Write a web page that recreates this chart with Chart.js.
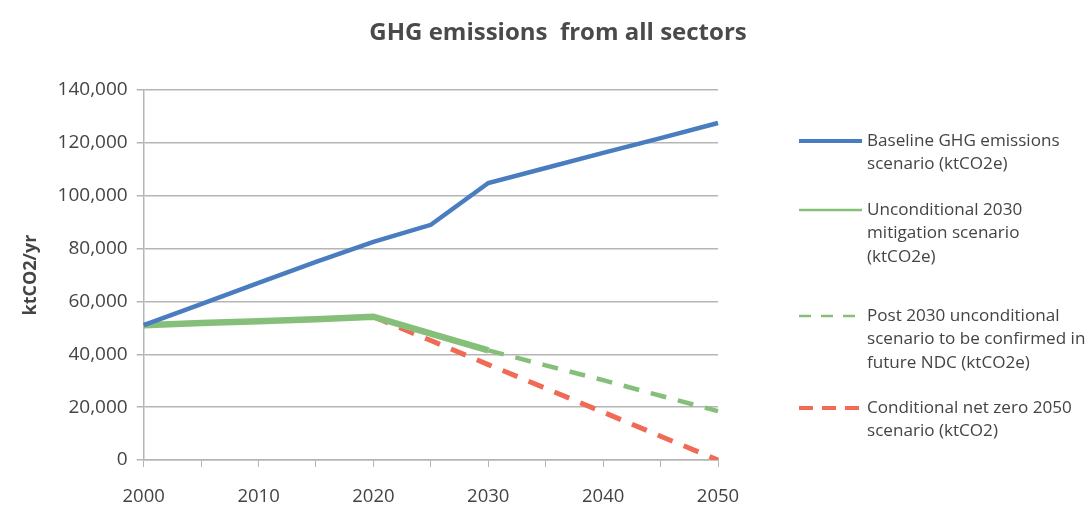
<!DOCTYPE html>
<html>
<head>
<meta charset="utf-8">
<script src="https://cdn.jsdelivr.net/npm/chart.js@4.4.1/dist/chart.umd.min.js"></script>
<style>
  html, body { margin: 0; padding: 0; background: #ffffff; }
  #wrap { width: 1088px; height: 507px; position: relative; }
</style>
</head>
<body>
<div id="wrap"><canvas id="c"></canvas></div>
<script>
// categories and series values
const years = ['2000','2005','2010','2015','2020','2025','2030','2035','2040','2045','2050'];
const baseline = [51000, 59000, 67000, 75000, 82500, 89000, 104800, 110500, 116200, 121800, 127500];
const unconditional2030 = [51000, 51800, 52500, 53300, 54200, 47800, 41500, null, null, null, null];
const post2030 = [null, null, null, null, null, null, 41500, 35800, 30200, 24300, 18500];
const netZero = [null, null, null, null, 54200, 45200, 36100, 27100, 18100, 9000, 0];
const yTicks = [0, 20000, 40000, 60000, 80000, 100000, 120000, 140000];
const titleText = 'GHG emissions  from all sectors';
const yTitle = 'ktCO2/yr';
const legendLines = [
  ['Baseline GHG emissions', 'scenario (ktCO2e)'],
  ['Unconditional 2030', 'mitigation scenario', '(ktCO2e)'],
  ['Post 2030 unconditional', 'scenario to be confirmed in', 'future NDC (ktCO2e)'],
  ['Conditional net zero 2050', 'scenario (ktCO2)']
];

const FONT = "'Open Sans', 'Noto Sans', sans-serif";
const TXT = '#444444';

const decorPlugin = {
  id: 'decor',
  afterDraw(chart) {
    const ctx = chart.ctx;
    ctx.save();
    // title
    ctx.fillStyle = '#4a4a4a';
    ctx.font = 'bold 24px ' + FONT;
    ctx.textAlign = 'center';
    ctx.textBaseline = 'middle';
    ctx.fillText(titleText, 558, 33);
    // legend
    const tops = [141, 210, 316, 408];
    const lineH = 23.5;
    chart.data.datasets.forEach((ds, i) => {
      const y = tops[i];
      ctx.beginPath();
      ctx.strokeStyle = ds.borderColor;
      ctx.lineWidth = ds.legendWidth;
      ctx.setLineDash(ds.legendDash || []);
      ctx.moveTo(799, y);
      ctx.lineTo(862, y);
      ctx.stroke();
      ctx.setLineDash([]);
      ctx.fillStyle = TXT;
      ctx.font = '17.1px ' + FONT;
      ctx.textBaseline = 'middle';
      ctx.textAlign = 'left';
      legendLines[i].forEach((t, k) => ctx.fillText(t, 867, y + k * lineH));
    });
    ctx.restore();
  }
};

new Chart(document.getElementById('c'), {
  type: 'line',
  data: {
    labels: years,
    datasets: [
      { label: legendLines[0].join(' '), data: baseline, borderColor: '#4a7dbf', borderWidth: 4.5, legendWidth: 4, pointRadius: 0, tension: 0 },
      { label: legendLines[1].join(' '), data: unconditional2030, borderColor: '#86bf7a', borderWidth: 6.5, legendWidth: 2.5, pointRadius: 0, tension: 0 },
      { label: legendLines[2].join(' '), data: post2030, borderColor: '#86bf7a', borderWidth: 4.5, legendWidth: 2.5, borderDash: [16, 12], legendDash: [12, 10], pointRadius: 0, tension: 0 },
      { label: legendLines[3].join(' '), data: netZero, borderColor: '#f06a55', borderWidth: 5, legendWidth: 4, borderDash: [16, 12], legendDash: [14, 9], pointRadius: 0, tension: 0 }
    ]
  },
  options: {
    responsive: true,
    maintainAspectRatio: false,
    animation: false,
    spanGaps: false,
    layout: { padding: { left: 20, right: 370, top: 90, bottom: 0 } },
    plugins: {
      legend: { display: false },
      tooltip: { enabled: false },
      title: { display: false }
    },
    scales: {
      x: {
        type: 'category',
        offset: false,
        afterFit: (s) => { s.height = 47; },
        grid: { display: true, drawOnChartArea: false, drawTicks: true, tickLength: 7, color: '#b5b5b5' },
        border: { color: '#b5b5b5', width: 1.5 },
        ticks: {
          color: TXT,
          font: { family: FONT, size: 18.5 },
          padding: 19,
          maxRotation: 0,
          autoSkip: false,
          callback: function (v, i) { return i % 2 === 0 ? years[i] : ''; }
        }
      },
      y: {
        min: 0,
        max: 140000,
        afterBuildTicks: (axis) => { axis.ticks = yTicks.map(v => ({ value: v })); },
        grid: { color: '#b5b5b5', lineWidth: 1.5, tickLength: 7 },
        border: { color: '#b5b5b5', width: 1.5 },
        ticks: {
          color: TXT,
          font: { family: FONT, size: 19 },
          padding: 9,
          callback: (v) => v.toLocaleString('en-US')
        },
        title: {
          display: true,
          text: yTitle,
          color: TXT,
          font: { family: FONT, size: 18, weight: 'bold' },
          padding: { top: 0, bottom: 7 }
        }
      }
    }
  },
  plugins: [decorPlugin]
});
</script>
</body>
</html>
